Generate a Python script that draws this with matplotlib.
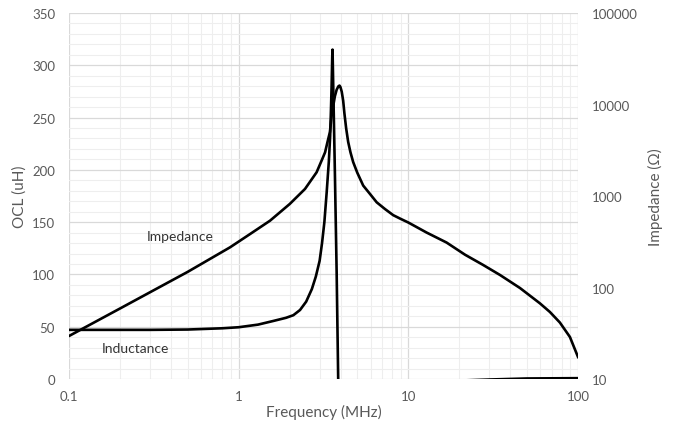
import numpy as np
import matplotlib
matplotlib.use("Agg")
import matplotlib.pyplot as plt
from matplotlib.ticker import FixedLocator, MultipleLocator, NullFormatter

# inductance (left axis, uH)
ind_freq = [0.1, 0.3, 0.5, 0.8, 1.0, 1.3, 1.6, 1.9, 2.1, 2.3, 2.5, 2.7, 2.85, 3.0,
            3.1, 3.2, 3.3, 3.4, 3.46, 3.5, 3.53, 3.56, 3.575,
            3.69, 3.78, 3.86, 3.95, 5.0, 10.0, 20.0, 30.0, 50.0, 100.0]
ind_uh = [47, 47, 47.3, 48.5, 49.5, 52, 55.5, 58.5, 61, 66, 74, 86, 98, 113,
          130, 150, 178, 208, 232, 258, 280, 308, 315,
          198, 102, 0, -80, -40, -10, -1.5, -0.5, 0.5, 0.8]

# impedance (right axis, ohm)
imp_freq = [0.1, 0.2, 0.5, 0.89, 1.17, 1.53, 2.0, 2.46, 2.88, 3.1, 3.23, 3.35, 3.45,
            3.53, 3.62, 3.69, 3.78, 3.87, 3.93, 3.98, 4.05, 4.13, 4.2, 4.3, 4.42,
            4.56, 4.73, 5.0, 5.42, 6.0, 6.51, 7.28, 8.15, 9.0, 10.0, 12.8, 16.8, 21.6,
            27.5, 34.7, 45.5, 59.6, 68.3, 78.2, 89.6, 100.0]
imp_ohm = [29.5, 59, 148, 275, 385, 537, 818, 1194, 1816, 2500, 3000, 4000, 5000,
           7500, 10000, 12300, 14500, 15800, 16100, 15500, 13800, 11000, 8000, 5500, 3900,
           3000, 2350, 1800, 1300, 1030, 853, 721, 617, 563, 513, 399, 310, 228,
           177, 137, 98.7, 67.2, 54, 41.4, 28.8, 17.4]

txt = '#595959'
plt.rcParams['font.family'] = ['Lato', 'DejaVu Sans']

fig = plt.figure(figsize=(6.75, 4.39), dpi=100)
ax = fig.add_axes([69/675, 59/439, 509/675, 366/439])
ax2 = ax.twinx()

ax.set_xscale('log')
ax.set_xlim(0.1, 100)
ax.set_ylim(0, 350)
ax.yaxis.set_major_locator(MultipleLocator(50))
ax.yaxis.set_minor_locator(MultipleLocator(10))
ax.xaxis.set_major_locator(FixedLocator([0.1, 1, 10, 100]))
ax.set_xticklabels(['0.1', '1', '10', '100'])
ax.xaxis.set_minor_formatter(NullFormatter())
ax.grid(True, which='major', color='#d9d9d9', lw=0.9)
ax.grid(True, which='minor', color='#eeeeee', lw=0.8)
ax.set_axisbelow(True)

ax2.set_yscale('log')
ax2.set_ylim(10, 100000)
ax2.yaxis.set_major_locator(FixedLocator([10, 100, 1000, 10000, 100000]))
ax2.set_yticklabels(['10', '100', '1000', '10000', '100000'])
ax2.yaxis.set_minor_formatter(NullFormatter())

for a in (ax, ax2):
    for s in a.spines.values():
        s.set_visible(False)
    a.tick_params(which='both', length=0, colors=txt, labelsize=9.5)
ax.tick_params(axis='x', pad=8)
ax.tick_params(axis='y', pad=10)
ax2.tick_params(axis='y', pad=10)

ax.plot(ind_freq, ind_uh, color='black', lw=1.9, solid_joinstyle='round')
ax2.plot(imp_freq, imp_ohm, color='black', lw=1.9, solid_joinstyle='round')

ax.text(0.45, 137, 'Impedance', ha='center', va='center', fontsize=10, color='#333333')
ax.text(0.245, 29.5, 'Inductance', ha='center', va='center', fontsize=10, color='#333333')

ax.set_xlabel('Frequency (MHz)', fontsize=11, color=txt, labelpad=1)
ax.set_ylabel('OCL (uH)', fontsize=11, color=txt, labelpad=4)
ax2.set_ylabel('Impedance (Ω)', fontsize=11, color=txt, labelpad=7)

fig.savefig('out.png', dpi=100)
